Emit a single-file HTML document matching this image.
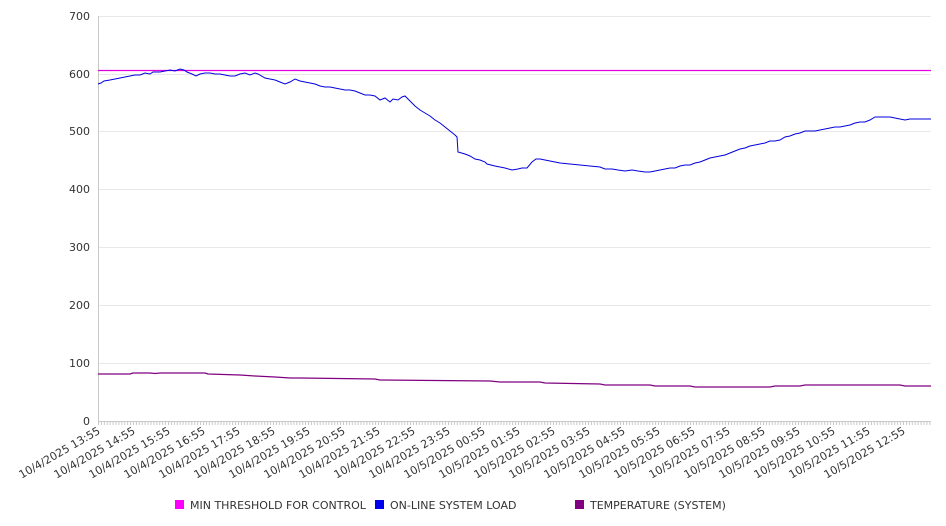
<!DOCTYPE html>
<html><head><meta charset="utf-8"><style>
html,body{margin:0;padding:0;background:#fff;}
svg{display:block;font-family:"DejaVu Sans","Liberation Sans",sans-serif;}
</style></head><body>
<svg width="946" height="526" viewBox="0 0 946 526" xmlns="http://www.w3.org/2000/svg">
<defs>
<pattern id="tk" x="98" y="421" width="2.9167" height="4" patternUnits="userSpaceOnUse">
<rect x="0" y="0" width="1" height="4" fill="#c8c8c8"/>
</pattern>
</defs>
<g stroke="#e8e8e8" stroke-width="1">
<line x1="98" y1="16.5" x2="931" y2="16.5"/>
<line x1="98" y1="74.5" x2="931" y2="74.5"/>
<line x1="98" y1="131.5" x2="931" y2="131.5"/>
<line x1="98" y1="189.5" x2="931" y2="189.5"/>
<line x1="98" y1="247.5" x2="931" y2="247.5"/>
<line x1="98" y1="305.5" x2="931" y2="305.5"/>
<line x1="98" y1="363.5" x2="931" y2="363.5"/>
</g>
<line x1="98.5" y1="16" x2="98.5" y2="421" stroke="#c8c8c8"/>
<line x1="98" y1="421.5" x2="931" y2="421.5" stroke="#c8c8c8"/>
<rect x="98" y="421" width="834" height="4" fill="url(#tk)"/>
<g font-size="11" fill="#333" text-anchor="end">
<text x="90" y="20">700</text><text x="90" y="78">600</text><text x="90" y="135">500</text>
<text x="90" y="193">400</text><text x="90" y="251">300</text><text x="90" y="309">200</text>
<text x="90" y="367">100</text><text x="90" y="425">0</text>
</g>
<g font-size="11" fill="#333" text-anchor="end">
<text transform="translate(101,433) rotate(-30)">10/4/2025 13:55</text>
<text transform="translate(136,433) rotate(-30)">10/4/2025 14:55</text>
<text transform="translate(171,433) rotate(-30)">10/4/2025 15:55</text>
<text transform="translate(206,433) rotate(-30)">10/4/2025 16:55</text>
<text transform="translate(241,433) rotate(-30)">10/4/2025 17:55</text>
<text transform="translate(276,433) rotate(-30)">10/4/2025 18:55</text>
<text transform="translate(311,433) rotate(-30)">10/4/2025 19:55</text>
<text transform="translate(346,433) rotate(-30)">10/4/2025 20:55</text>
<text transform="translate(381,433) rotate(-30)">10/4/2025 21:55</text>
<text transform="translate(416,433) rotate(-30)">10/4/2025 22:55</text>
<text transform="translate(451,433) rotate(-30)">10/4/2025 23:55</text>
<text transform="translate(486,433) rotate(-30)">10/5/2025 00:55</text>
<text transform="translate(521,433) rotate(-30)">10/5/2025 01:55</text>
<text transform="translate(556,433) rotate(-30)">10/5/2025 02:55</text>
<text transform="translate(591,433) rotate(-30)">10/5/2025 03:55</text>
<text transform="translate(626,433) rotate(-30)">10/5/2025 04:55</text>
<text transform="translate(661,433) rotate(-30)">10/5/2025 05:55</text>
<text transform="translate(696,433) rotate(-30)">10/5/2025 06:55</text>
<text transform="translate(731,433) rotate(-30)">10/5/2025 07:55</text>
<text transform="translate(766,433) rotate(-30)">10/5/2025 08:55</text>
<text transform="translate(801,433) rotate(-30)">10/5/2025 09:55</text>
<text transform="translate(836,433) rotate(-30)">10/5/2025 10:55</text>
<text transform="translate(871,433) rotate(-30)">10/5/2025 11:55</text>
<text transform="translate(906,433) rotate(-30)">10/5/2025 12:55</text>
</g>
<line x1="98" y1="70.5" x2="931" y2="70.5" stroke="#e000e0" stroke-width="1.2"/>
<polyline fill="none" stroke="#0000dd" stroke-width="1" points="98,84 101,83 104,81 110,80 115,79 120,78 125,77 130,76 135,75 140,75 145,73 150,74 153,72 160,72 165,71 170,70 175,71 180,69 184,70 187,72 192,74 196,76 200,74 205,73 210,73 215,74 220,74 225,75 230,76 235,76 240,74 245,73 250,75 255,73 258,74 265,78 270,79 275,80 280,82 285,84 290,82 295,79 300,81 305,82 310,83 315,84 320,86 325,87 330,87 335,88 340,89 345,90 350,90 355,91 360,93 365,95 370,95 375,96 380,100 385,98 390,102 393,99 398,100 402,97 405,96 410,101 415,106 420,110 425,113 430,116 435,120 440,123 445,127 450,131 455,135 457,137 458,152 465,154 470,156 475,159 480,160 485,162 487,164 495,166 500,167 505,168 512,170 518,169 522,168 527,168 532,162 536,159 540,159 550,161 560,163 570,164 580,165 590,166 600,167 605,169 612,169 618,170 625,171 632,170 638,171 645,172 650,172 655,171 660,170 665,169 670,168 675,168 680,166 685,165 690,165 695,163 700,162 705,160 710,158 715,157 720,156 725,155 730,153 735,151 740,149 745,148 750,146 755,145 760,144 765,143 770,141 775,141 780,140 785,137 790,136 795,134 800,133 805,131 810,131 815,131 820,130 825,129 830,128 835,127 840,127 845,126 850,125 855,123 860,122 865,122 870,120 875,117 880,117 885,117 890,117 895,118 900,119 905,120 910,119 915,119 920,119 931,119"/>
<polyline fill="none" stroke="#800080" stroke-width="1.2" points="98,374 130,374 133,373 150,373 155,373.5 160,373 205,373 208,374 240,375 255,376 275,377 290,378 300,378 375,379 380,380 490,381 500,382 540,382 545,383 600,384 605,385 650,385 655,386 690,386 695,387 770,387 775,386 800,386 805,385 900,385 905,386 931,386"/>
<g font-size="11" fill="#333">
<rect x="175" y="500" width="9" height="9" fill="#ff00ff"/><text x="190" y="509">MIN THRESHOLD FOR CONTROL</text>
<rect x="375" y="500" width="9" height="9" fill="#0000ee"/><text x="390" y="509">ON-LINE SYSTEM LOAD</text>
<rect x="575" y="500" width="9" height="9" fill="#800080"/><text x="590" y="509">TEMPERATURE (SYSTEM)</text>
</g>
</svg>
</body></html>
